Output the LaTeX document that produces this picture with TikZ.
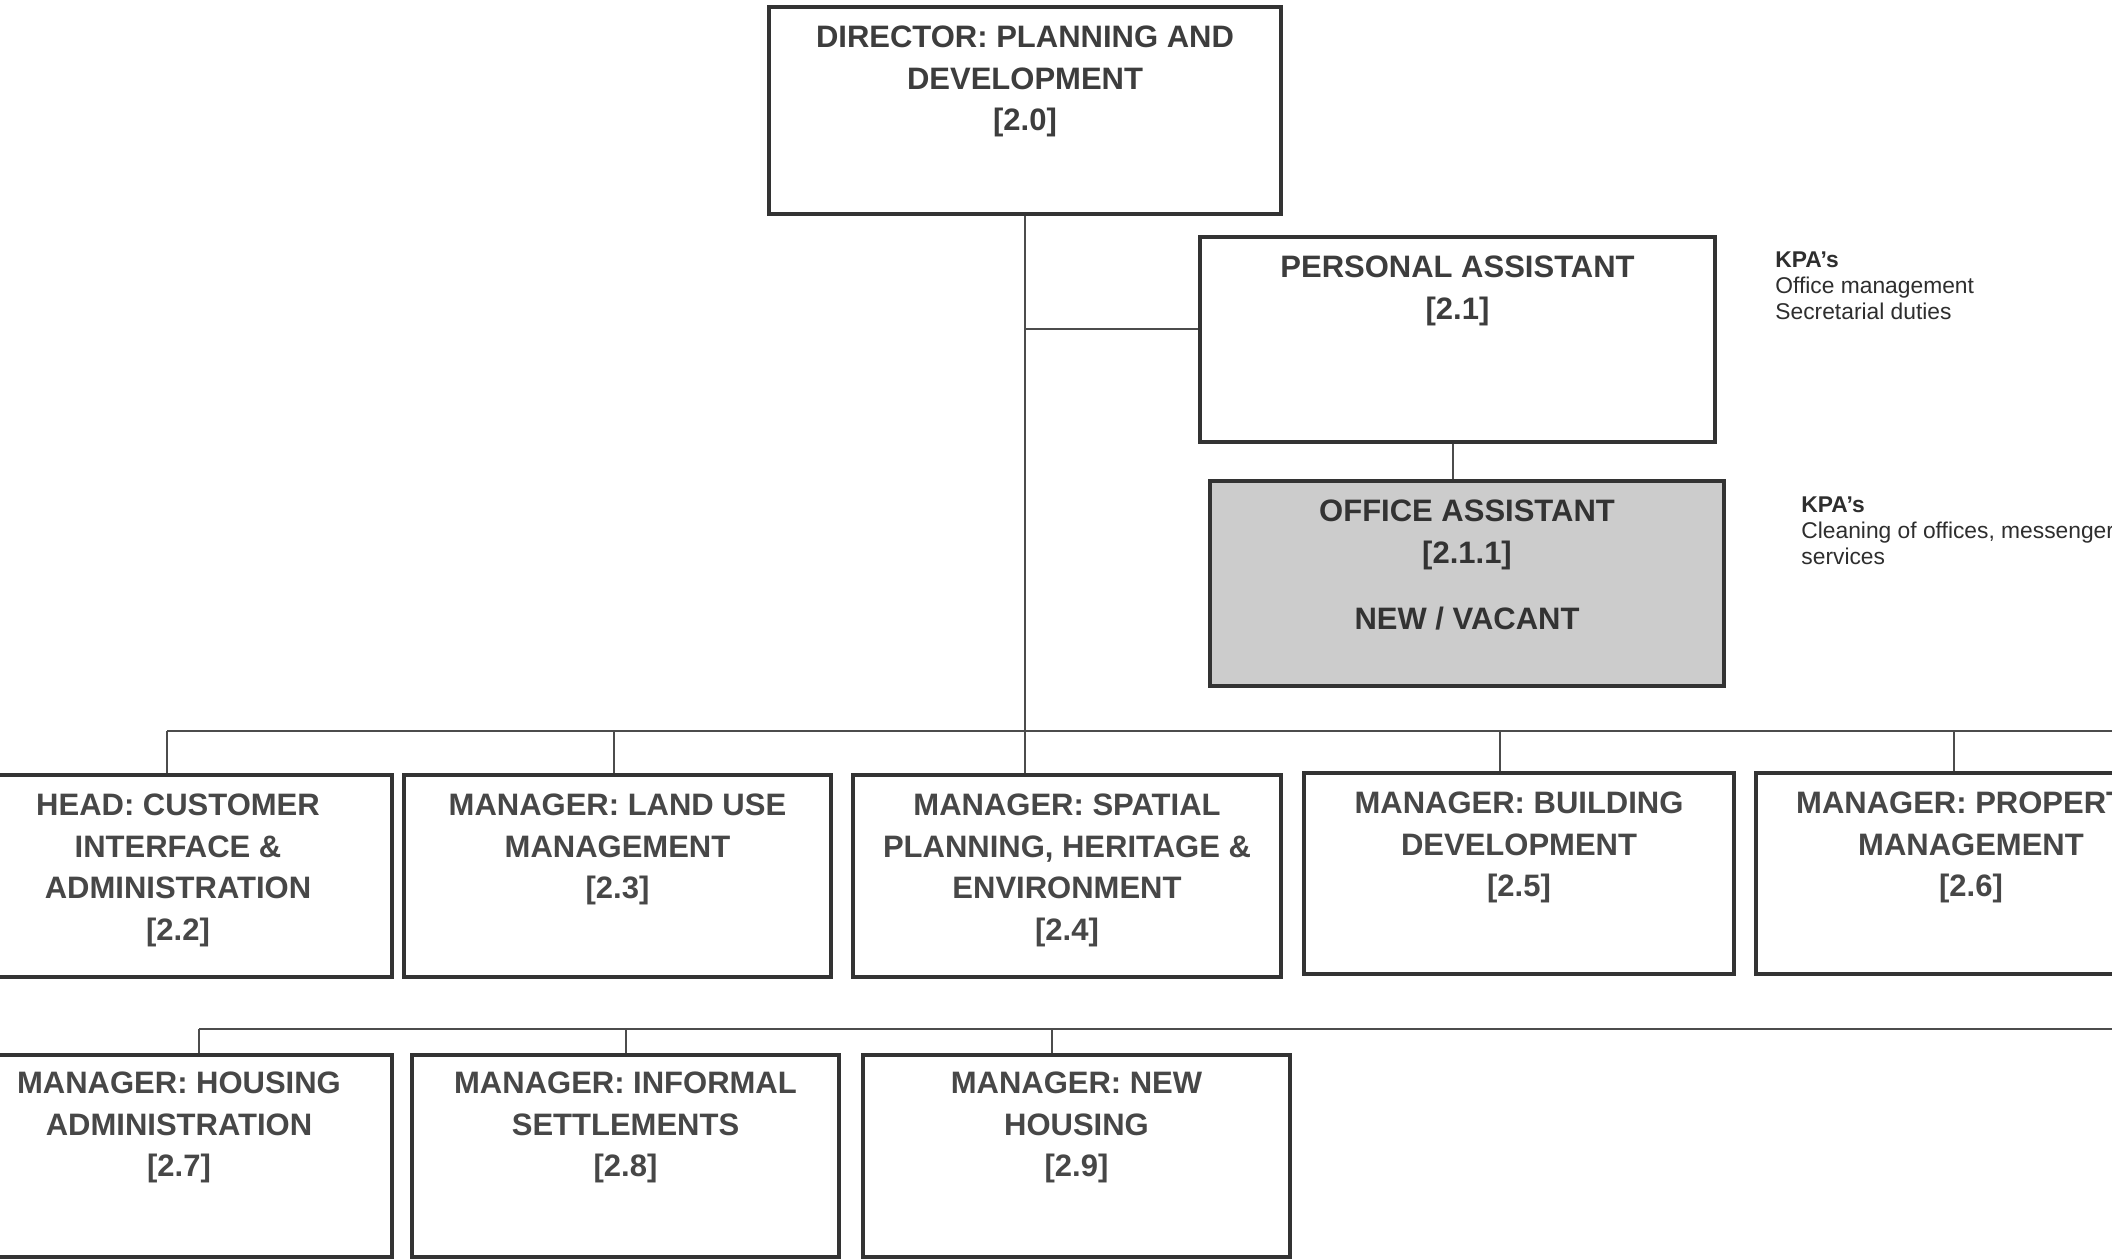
\documentclass[tikz,border=0pt]{standalone}
\usepackage{fontspec}
\setmainfont{Liberation Sans}
\begin{document}
\begin{tikzpicture}[x=0.5pt,y=-0.5pt,
  box/.style={draw=black!80, line width=1.6pt, rectangle, inner sep=0pt},
  conn/.style={draw=black!70, line width=0.8pt},
  lbl/.style={font=\fontsize{15.5}{20.8}\selectfont\bfseries, text=black!72, align=center, anchor=north, inner sep=0pt},
  kpa/.style={font=\fontsize{11.4}{13}\selectfont, text=black!82, align=left, anchor=north west, inner sep=0pt}]
\useasboundingbox (0,0) rectangle (2112,1258);
\fill[white] (0,0) rectangle (2112,1258);
\clip (0,0) rectangle (2112,1258);

% top boxes
\node[box, minimum width=256pt, minimum height=103.5pt] (dir) at (1025,110.5) {};
\node[box, minimum width=257.5pt, minimum height=102.5pt] (pa) at (1457.5,339.5) {};
\node[box, fill=black!20, minimum width=257pt, minimum height=102.5pt] (oa) at (1467,583.5) {};

% row 1
\node[box, minimum width=214pt, minimum height=101pt] (b22) at (178,876) {};
\node[box, minimum width=213.5pt, minimum height=101pt] (b23) at (617.5,876) {};
\node[box, minimum width=214pt, minimum height=101pt] (b24) at (1067,876) {};
\node[box, minimum width=215pt, minimum height=100.5pt] (b25) at (1519,873.5) {};
\node[box, minimum width=215pt, minimum height=100.5pt] (b26) at (1971,873.5) {};

% row 2
\node[box, minimum width=213pt, minimum height=101pt] (b27) at (179,1156) {};
\node[box, minimum width=213.5pt, minimum height=101pt] (b28) at (625.5,1156) {};
\node[box, minimum width=213.5pt, minimum height=101pt] (b29) at (1076.5,1156) {};

% labels
\node[lbl, text=black!76] (tdir) at ([yshift=-10pt]dir.north) {DIRECTOR: PLANNING AND\\DEVELOPMENT\\{[2.0]}};
\node[lbl, text=black!76] (tpa) at ([yshift=-10pt]pa.north) {PERSONAL ASSISTANT\\{[2.1]}};
\node[lbl, text=black!80] (toa) at ([yshift=-10pt]oa.north) {OFFICE ASSISTANT\\{[2.1.1]}\\[12.5pt]NEW / VACANT};
\node[lbl] (t22) at ([yshift=-10pt]b22.north) {HEAD: CUSTOMER\\INTERFACE \&\\ADMINISTRATION\\{[2.2]}};
\node[lbl] (t23) at ([yshift=-10pt]b23.north) {MANAGER: LAND USE\\MANAGEMENT\\{[2.3]}};
\node[lbl] (t24) at ([yshift=-10pt]b24.north) {MANAGER: SPATIAL\\PLANNING, HERITAGE \&\\ENVIRONMENT\\{[2.4]}};
\node[lbl] (t25) at ([yshift=-10pt]b25.north) {MANAGER: BUILDING\\DEVELOPMENT\\{[2.5]}};
\node[lbl] (t26) at ([yshift=-10pt]b26.north) {MANAGER: PROPERTY\\MANAGEMENT\\{[2.6]}};
\node[lbl] (t27) at ([yshift=-9pt]b27.north) {MANAGER: HOUSING\\ADMINISTRATION\\{[2.7]}};
\node[lbl] (t28) at ([yshift=-9pt]b28.north) {MANAGER: INFORMAL\\SETTLEMENTS\\{[2.8]}};
\node[lbl] (t29) at ([yshift=-9pt]b29.north) {MANAGER: NEW\\HOUSING\\{[2.9]}};

% KPA notes
\node[kpa] (kpa1) at (1775,251) {\textbf{KPA’s}\\Office management\\Secretarial duties};
\node[kpa] (kpa2) at (1801,496) {\textbf{KPA’s}\\Cleaning of offices, messenger\\services};

% connectors
\coordinate (jpa) at (1026,329);
\draw[conn] (dir.south) -- (dir.south |- b24.north);
\draw[conn] (jpa) -- (jpa -| pa.west);
\draw[conn] ([xshift=-2.25pt]pa.south) -- ([xshift=-2.25pt]pa.south |- oa.north);

\coordinate (bus1L) at (167,731);
\coordinate (bus1R) at (2130,731);
\draw[conn] (bus1L) -- (bus1R);
\coordinate (d23) at (614,731);
\coordinate (d25) at (1500,731);
\coordinate (d26) at (1954,731);
\draw[conn] (bus1L) -- (bus1L |- b22.north);
\draw[conn] (d23) -- (d23 |- b23.north);
\draw[conn] (d25) -- (d25 |- b25.north);
\draw[conn] (d26) -- (d26 |- b26.north);

\coordinate (bus2L) at (199,1029);
\coordinate (bus2R) at (2130,1029);
\draw[conn] (bus2L) -- (bus2R);
\coordinate (d28) at (626,1029);
\coordinate (d29) at (1052,1029);
\draw[conn] (bus2L) -- (bus2L |- b27.north);
\draw[conn] (d28) -- (d28 |- b28.north);
\draw[conn] (d29) -- (d29 |- b29.north);
\end{tikzpicture}
\end{document}
